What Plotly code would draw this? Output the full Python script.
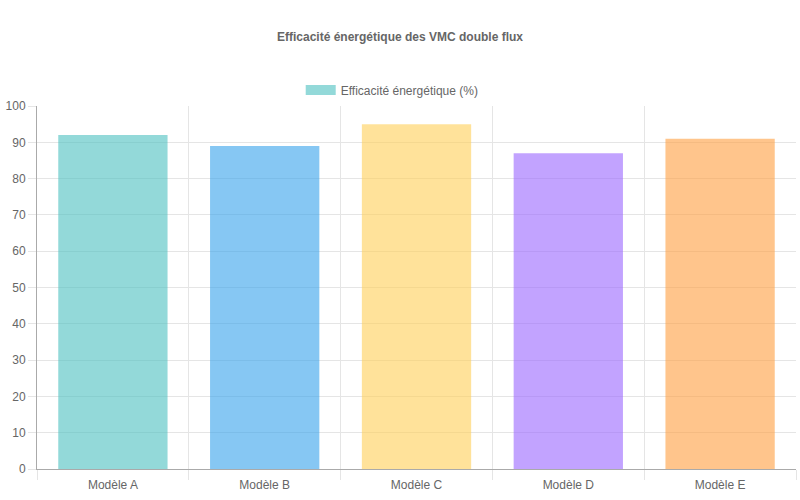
import plotly.graph_objects as go

modeles = ["Modèle A", "Modèle B", "Modèle C", "Modèle D", "Modèle E"]
efficacite = [92, 89, 95, 87, 91]
couleurs = [
    "rgba(75,192,192,0.6)",
    "rgba(54,162,235,0.6)",
    "rgba(255,206,86,0.6)",
    "rgba(153,102,255,0.6)",
    "rgba(255,159,64,0.6)",
]
nom_serie = "Efficacité énergétique (%)"

fig = go.Figure()
fig.add_trace(go.Bar(x=modeles, y=efficacite, marker=dict(color=couleurs, line=dict(width=0)),
                     width=0.72, showlegend=False, name=nom_serie))
# entrée de légende façon Chart.js (rectangle large)
fig.add_trace(go.Scatter(x=[None], y=[None], mode="lines", name=nom_serie,
                         line=dict(color=couleurs[0], width=12)))

fig.update_layout(
    width=800, height=500,
    paper_bgcolor="white", plot_bgcolor="white",
    font=dict(family="Liberation Sans, Arial, sans-serif", size=12, color="#666"),
    title=dict(text="<b>Efficacité énergétique des VMC double flux</b>", x=0.5, xanchor="center",
               y=0.926, yanchor="middle", font=dict(size=12, color="#666")),
    legend=dict(orientation="h", x=0.468, xanchor="center", y=1.044, yanchor="middle",
                font=dict(size=12, color="#666")),
    margin=dict(l=37, r=4, t=106, b=31),
    xaxis=dict(tickson="boundaries", showgrid=True, gridcolor="#e5e5e5", ticks="outside",
               ticklen=10, tickcolor="#e5e5e5", showline=True, linecolor="#aaa", linewidth=1,
               range=[-0.5, 4.5], automargin=False, ticklabelstandoff=5),
    yaxis=dict(range=[0, 100], dtick=10, showgrid=True, gridcolor="#e5e5e5", ticks="outside",
               ticklen=8, tickcolor="#e5e5e5", showline=True, linecolor="#aaa", linewidth=1,
               zeroline=False, automargin=False),
)

# enlève la marge par défaut du body pour que la figure occupe toute la fenêtre
fig.write_html("out.html", config={"displayModeBar": False},
               post_script="document.body.style.margin='0';")
